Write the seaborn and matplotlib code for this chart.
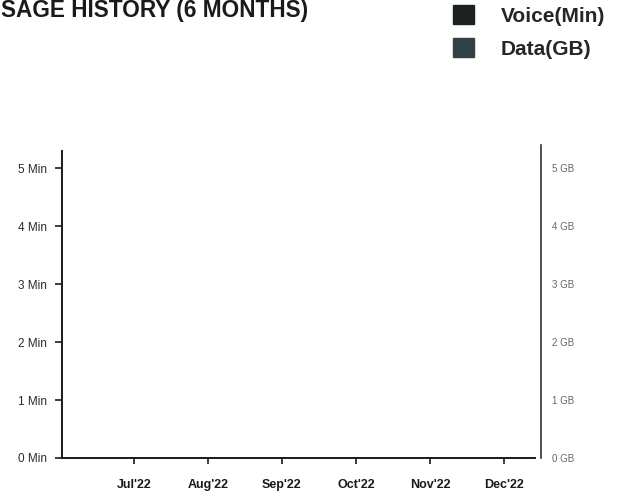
import matplotlib
matplotlib.use("Agg")
import matplotlib.pyplot as plt
import matplotlib.patches as mpatches
import seaborn as sns
import pandas as pd

months = ["Jul'22", "Aug'22", "Sep'22", "Oct'22", "Nov'22", "Dec'22"]
voice_min = [0, 0, 0, 0, 0, 0]
data_gb = [0, 0, 0, 0, 0, 0]
left_ticks = [0, 1, 2, 3, 4, 5]
left_labels = ["0 Min", "1 Min", "2 Min", "3 Min", "4 Min", "5 Min"]
right_labels = ["0 GB", "1 GB", "2 GB", "3 GB", "4 GB", "5 GB"]
series = ["Voice(Min)", "Data(GB)"]
colors = ["#1c2220", "#2f4247"]

sns.set_theme(style="white")
plt.rcParams['font.family'] = ['Liberation Sans', 'DejaVu Sans']

df = pd.DataFrame({
    "month": months * 2,
    "value": voice_min + data_gb,
    "series": [series[0]] * 6 + [series[1]] * 6,
})
palette = dict(zip(series, colors))

fig = plt.figure(figsize=(6.26, 4.96), dpi=100)
ax = fig.add_axes([62 / 626, 1 - 458 / 496, (541 - 62) / 626, (458 - 145) / 496])

sns.barplot(data=df, x="month", y="value", hue="series", palette=palette,
            order=months, ax=ax, width=0.6, legend=False)

ax.set_xlim(-0.97, 5.5)
ax.set_ylim(0, 5.4)
ax.set_xlabel("")
ax.set_ylabel("")

for side in ["top", "right"]:
    ax.spines[side].set_visible(False)
for side in ["left", "bottom"]:
    ax.spines[side].set_color("#1a1a1a")
    ax.spines[side].set_linewidth(1.4)
ax.spines["left"].set_bounds(0, 5.29)
ax.spines["bottom"].set_bounds(-0.97, 5.42)

ax.set_yticks(left_ticks)
ax.set_yticklabels(left_labels)
ax.tick_params(axis="y", left=True, length=5, width=1.2, color="#1a1a1a",
               pad=6, labelsize=8.5, labelcolor="#2a2a2a")
ax.tick_params(axis="x", bottom=True, length=4, width=1.2, color="#1a1a1a",
               pad=11, labelsize=9, labelcolor="#1a1a1a")
for lbl in ax.get_xticklabels():
    lbl.set_fontweight("bold")

ax2 = ax.twinx()
ax2.set_ylim(ax.get_ylim())
ax2.set_yticks(left_ticks)
ax2.set_yticklabels(right_labels)
ax2.tick_params(axis="y", right=True, length=0, pad=8, labelsize=7,
                labelcolor="#666666")
for side in ["top", "left", "bottom"]:
    ax2.spines[side].set_visible(False)
ax2.spines["right"].set_color("#333333")
ax2.spines["right"].set_linewidth(1.2)

handles = [mpatches.Patch(facecolor=c, edgecolor=c) for c in colors]
ax2.legend(handles, series, loc="upper left", bbox_to_anchor=(434 / 626, 1.027),
           bbox_transform=fig.transFigure, frameon=False,
           prop={"size": 15, "weight": "bold"}, handlelength=1.0,
           handleheight=1.0, handletextpad=1.3, labelspacing=0.6)

fig.text(1 / 626, 1 - 17 / 496, "SAGE HISTORY (6 MONTHS)", ha="left",
         va="baseline", fontsize=16.3, fontweight="bold", color="#1a1a1a")

fig.savefig("out.png", dpi=100, facecolor="white")
